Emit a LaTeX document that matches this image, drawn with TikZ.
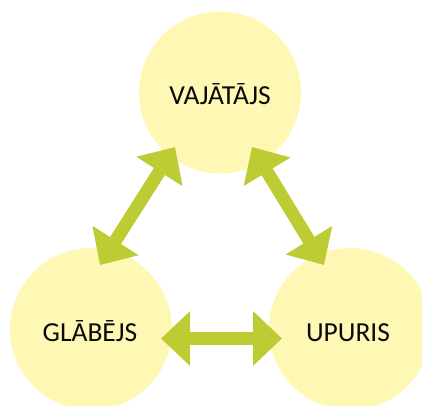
\documentclass[tikz,border=0pt]{standalone}
\usepackage{fontspec}
\setmainfont{Carlito}
\usetikzlibrary{arrows.meta}
\definecolor{roleFill}{HTML}{FFF8B4}
\definecolor{linkGreen}{HTML}{BDCC33}
\definecolor{labelInk}{HTML}{0A0A0A}
\tikzset{
  role/.style={circle, fill=roleFill, draw=none, minimum size=162pt, inner sep=0pt},
  rolelabel/.style={anchor=base, text=labelInk, font=\fontsize{27.5}{32}\selectfont, inner sep=0pt},
  link/.style={draw=linkGreen, line width=13pt,
    {Triangle[width=53pt,length=29pt]}-{Triangle[width=53pt,length=29pt]}}
}
\begin{document}
\begin{tikzpicture}[x=1pt,y=1pt]
  \useasboundingbox (0,0) rectangle (422,405);
  \clip (0,0) rectangle (422,405);

  % the three roles of the triangle
  \node[role] (v) at (220,312.5) {};
  \node[role] (g) at (91,76) {};
  \node[role] (u) at (350,76) {};

  \node[rolelabel] (vt) at ([yshift=-11.5pt]v.center) {VAJĀTĀJS};
  \node[rolelabel] (gt) at ([xshift=-1pt,yshift=-12pt]g.center) {GLĀBĒJS};
  \node[rolelabel] (ut) at ([xshift=-2pt,yshift=-12pt]u.center) {UPURIS};

  % two-way links between the roles
  \draw[link] ([shift={(9,64)}]g.center) -- ([shift={(-45,-54.5)}]v.center);
  \draw[link] ([shift={(32,-54.5)}]v.center) -- ([shift={(-26,64)}]u.center);
  \draw[link] ([shift={(70,-9.5)}]g.center) -- ([shift={(-68,-9.5)}]u.center);
\end{tikzpicture}
\end{document}
